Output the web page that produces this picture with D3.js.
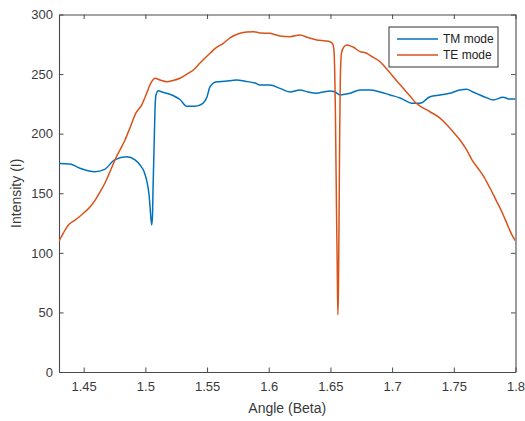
<!DOCTYPE html>
<html><head><meta charset="utf-8">
<script src="https://cdn.jsdelivr.net/npm/d3@7"></script>
<style>body{margin:0;background:#fff;} svg{display:block;}</style>
</head><body>
<svg id="chart" width="525" height="421"></svg>
<script>
// Data (angle in Beta, intensity)
const tmAngle = [1.430,1.439,1.447,1.459,1.467,1.475,1.485,1.4916,1.4957,1.499,1.501,1.503,1.5038,1.5051,1.5058,1.5062,1.507,1.5078,1.5086,1.5105,1.5135,1.5224,1.528,1.5335,1.540,1.5467,1.550,1.5524,1.5578,1.5645,1.574,1.5808,1.5889,1.593,1.601,1.6091,1.6172,1.6253,1.6318,1.6389,1.644,1.6496,1.6537,1.6578,1.6659,1.674,1.682,1.6902,1.6983,1.7064,1.7169,1.7226,1.7307,1.7388,1.7469,1.755,1.7604,1.7655,1.7712,1.7769,1.7818,1.7899,1.7955,1.800];
const tmValue = [175,174.5,171,168,170,178,180.7,178,173.7,168,161,148.5,138.7,123.4,132,152.7,186,220,232.5,236,235,232,228.7,223,223,225.5,231,239.4,243.6,244,245,244,242.5,240.8,240.8,238,235,236.6,235,234,235,235.8,235,232.5,234,236.6,236.6,235,232.5,230,225.5,225.5,231,232.5,234,236.6,237.2,235,232.5,230,228.3,230.5,229,229];

const teAngle = [1.430,1.4332,1.4373,1.443,1.4484,1.4551,1.4592,1.4632,1.4673,1.4713,1.4754,1.4794,1.4835,1.4875,1.4924,1.497,1.5005,1.5051,1.5078,1.5119,1.5173,1.5224,1.528,1.5337,1.5389,1.5443,1.5524,1.5572,1.5632,1.5686,1.5767,1.5824,1.5875,1.593,1.601,1.6091,1.6172,1.6253,1.6318,1.6389,1.6456,1.6496,1.652,1.653,1.6535,1.654,1.6545,1.655,1.6555,1.656,1.6565,1.657,1.6575,1.658,1.6585,1.659,1.661,1.6634,1.6683,1.674,1.6788,1.6837,1.6902,1.6942,1.6983,1.7031,1.7088,1.7145,1.7193,1.7226,1.7307,1.7388,1.7445,1.7493,1.755,1.7604,1.7647,1.7696,1.7745,1.7793,1.7842,1.789,1.7939,1.7971,1.800];
const teValue = [110,116,123,127.5,132,138.5,144,151,158.6,168,178,186.3,194.7,204.8,217.4,224,232.5,243.6,246.5,245,243.6,244.6,246.5,250,253.4,259.3,267.5,272,275.8,280.3,284.2,285.3,285.6,284.5,284.2,282,281.4,282.8,280.7,278.6,277.8,277.2,275,268,250,220,175,130,90,48,70,130,200,245,262,268,273,274.4,272.7,268.8,267.7,264.6,260.4,256,251,245,238.3,231.6,225.7,223.2,218.4,213,207.3,201.7,194.7,186.3,178,171,163.6,154.4,144.3,134.3,122.5,115,110];

const xTicks = [1.45,1.5,1.55,1.6,1.65,1.7,1.75,1.8];
const yTicks = [0,50,100,150,200,250,300];
const seriesNames = ["TM mode","TE mode"];
const seriesColors = ["#0072BD","#D95319"];

const svg = d3.select("#chart");
const L = 59, R = 515.5, T = 14.5, B = 372;
const x = d3.scaleLinear().domain([1.43,1.8]).range([L,R]);
const y = d3.scaleLinear().domain([0,300]).range([B,T]);
const font = "'Liberation Sans', Arial, sans-serif";
const axisColor = "#4a4a4a";
const tl = 4.5;

const fmt = d => String(d);
const gx = svg.append("g").attr("transform",`translate(0,${B})`)
  .call(d3.axisBottom(x).tickValues(xTicks).tickFormat(fmt).tickSizeInner(-tl).tickSizeOuter(0).tickPadding(10));
const gxt = svg.append("g").attr("transform",`translate(0,${T})`)
  .call(d3.axisTop(x).tickValues(xTicks).tickFormat("").tickSizeInner(-tl).tickSizeOuter(0));
const gy = svg.append("g").attr("transform",`translate(${L},0)`)
  .call(d3.axisLeft(y).tickValues(yTicks).tickFormat(fmt).tickSizeInner(-tl).tickSizeOuter(0).tickPadding(6));
const gyr = svg.append("g").attr("transform",`translate(${R},0)`)
  .call(d3.axisRight(y).tickValues(yTicks).tickFormat("").tickSizeInner(-tl).tickSizeOuter(0));
[gx,gxt,gy,gyr].forEach(g=>{
  g.selectAll("path.domain").attr("stroke",axisColor).attr("stroke-width",1.1);
  g.selectAll(".tick line").attr("stroke",axisColor).attr("stroke-width",1);
  g.selectAll(".tick text").attr("fill","#3a3a3a").style("font-family",font).style("font-size","13px");
});

svg.append("clipPath").attr("id","clip").append("rect")
  .attr("x",L).attr("y",T).attr("width",R-L).attr("height",B-T);

const line = d3.line().x(d=>x(d[0])).y(d=>y(d[1])).curve(d3.curveMonotoneX);
const tmData = tmAngle.map((a,i)=>[a,tmValue[i]]);
const teData = teAngle.map((a,i)=>[a,teValue[i]]);
const plot = svg.append("g").attr("clip-path","url(#clip)");
plot.append("path").datum(tmData).attr("d",line).attr("fill","none")
  .attr("stroke",seriesColors[0]).attr("stroke-width",1.5).attr("stroke-linejoin","round");
plot.append("path").datum(teData).attr("d",line).attr("fill","none")
  .attr("stroke",seriesColors[1]).attr("stroke-width",1.5).attr("stroke-linejoin","round");

// axis titles
svg.append("text").attr("x",(L+R)/2).attr("y",413).attr("text-anchor","middle")
  .attr("fill","#3a3a3a").style("font-family",font).style("font-size","14px").text("Angle (Beta)");
svg.append("text").attr("transform",`translate(21,${(T+B)/2}) rotate(-90)`).attr("text-anchor","middle")
  .attr("fill","#3a3a3a").style("font-family",font).style("font-size","14px").text("Intensity (I)");

// legend
const lg = svg.append("g");
lg.append("rect").attr("x",389).attr("y",27).attr("width",109).attr("height",40)
  .attr("fill","#fff").attr("stroke","#333").attr("stroke-width",1);
seriesNames.forEach((n,i)=>{
  const yy = 39 + i*16;
  lg.append("line").attr("x1",397).attr("x2",438).attr("y1",yy).attr("y2",yy)
    .attr("stroke",seriesColors[i]).attr("stroke-width",1.4);
  lg.append("text").attr("x",443).attr("y",yy+4).attr("fill","#222")
    .style("font-family",font).style("font-size","12px").text(n);
});
</script>
</body></html>
